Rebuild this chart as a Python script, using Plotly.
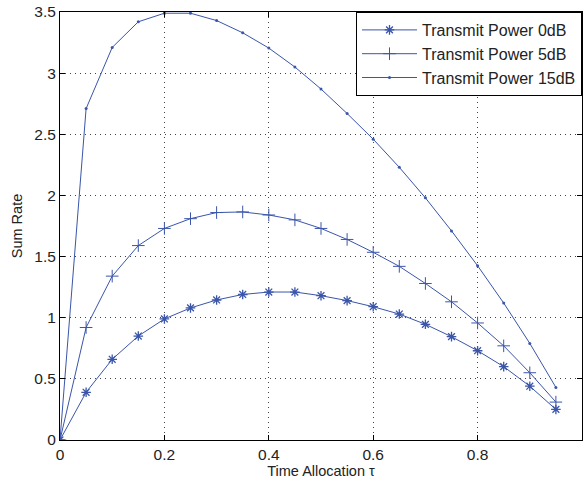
import plotly.graph_objects as go

tau = [0, 0.05, 0.1, 0.15, 0.2, 0.25, 0.3, 0.35, 0.4, 0.45, 0.5, 0.55, 0.6, 0.65, 0.7, 0.75, 0.8, 0.85, 0.9, 0.95]
rate_0db = [0, 0.39, 0.66, 0.85, 0.99, 1.08, 1.145, 1.19, 1.21, 1.21, 1.18, 1.14, 1.09, 1.03, 0.946, 0.845, 0.73, 0.60, 0.44, 0.25]
rate_5db = [0, 0.92, 1.34, 1.59, 1.73, 1.81, 1.86, 1.865, 1.84, 1.80, 1.73, 1.64, 1.535, 1.42, 1.28, 1.13, 0.957, 0.77, 0.55, 0.31]
rate_15db = [0, 2.71, 3.21, 3.42, 3.49, 3.49, 3.43, 3.33, 3.205, 3.05, 2.87, 2.67, 2.46, 2.23, 1.98, 1.71, 1.425, 1.12, 0.79, 0.43]
names = ["Transmit Power 0dB", "Transmit Power 5dB", "Transmit Power 15dB"]
x_ticks = [0, 0.2, 0.4, 0.6, 0.8, 1]
y_ticks = [0, 0.5, 1, 1.5, 2, 2.5, 3, 3.5]

color = "#3a55aa"
fig = go.Figure()
fig.add_trace(go.Scatter(x=tau, y=rate_0db, name=names[0], mode="lines+markers",
                         line=dict(color=color, width=1),
                         marker=dict(symbol="asterisk-open", size=8, color=color, line=dict(color=color, width=1.3))))
fig.add_trace(go.Scatter(x=tau, y=rate_5db, name=names[1], mode="lines+markers",
                         line=dict(color=color, width=1),
                         marker=dict(symbol="cross-thin-open", size=9, color=color, line=dict(color=color, width=1))))
fig.add_trace(go.Scatter(x=tau, y=rate_15db, name=names[2], mode="lines+markers",
                         line=dict(color=color, width=1),
                         marker=dict(symbol="circle", size=3, color=color)))

font = "Liberation Sans, Arial, sans-serif"
axis_common = dict(showline=True, linecolor="black", linewidth=1, mirror="ticks",
                   ticks="inside", ticklen=5, tickcolor="black",
                   showgrid=True, gridcolor="#444444", griddash="1px,4px", gridwidth=1,
                   zeroline=False, automargin=False,
                   tickfont=dict(family=font, size=15.5, color="#222"))
fig.update_xaxes(range=[0, 1], tickvals=x_ticks, ticktext=[str(v) for v in x_ticks],
                 title=dict(text="Time Allocation τ", font=dict(family=font, size=14.5, color="#222"), standoff=2),
                 **axis_common)
fig.update_yaxes(range=[0, 3.5], tickvals=y_ticks, ticktext=[str(v) for v in y_ticks],
                 title=dict(text="Sum Rate", font=dict(family=font, size=14.5, color="#222"), standoff=8),
                 **axis_common)
fig.update_layout(
    width=584, height=487,
    margin=dict(l=60, r=2, t=12, b=47),
    plot_bgcolor="white", paper_bgcolor="white",
    showlegend=True,
    legend=dict(x=1, y=1, xanchor="right", yanchor="top", bgcolor="white",
                bordercolor="black", borderwidth=1, font=dict(family=font, size=16, color="#222"),
                tracegroupgap=0, itemwidth=55),
)
fig.write_html("out.html", config={"displayModeBar": False},
               post_script="document.body.style.margin='0';document.body.style.overflow='hidden';")
